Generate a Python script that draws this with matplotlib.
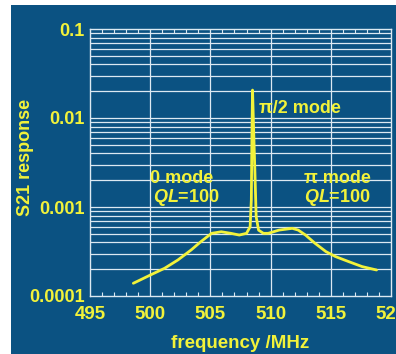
import numpy as np
import matplotlib.pyplot as plt
from matplotlib.patches import Rectangle
from matplotlib.ticker import MultipleLocator, FixedLocator, NullFormatter

plt.rcParams['font.family'] = ['Liberation Sans', 'DejaVu Sans']
plt.rcParams['mathtext.fontset'] = 'custom'
plt.rcParams['mathtext.it'] = 'Liberation Sans:italic:bold'
plt.rcParams['mathtext.rm'] = 'Liberation Sans:bold'

# S21 transmission readout
freq = [498.6, 500.2, 501.2, 502.3, 503.4, 504.2, 505.1, 505.9, 506.7, 507.4,
        508.0, 508.3, 508.4, 508.45, 508.5, 508.6, 508.7, 508.8, 509.0, 509.4,
        509.8, 510.7, 511.8, 512.3, 512.9, 513.7, 514.6, 515.4, 516.5, 517.6, 518.8]
s21 = [1.39e-4, 1.77e-4, 2.05e-4, 2.54e-4, 3.29e-4, 4.07e-4, 5.06e-4, 5.27e-4, 5.06e-4, 4.84e-4,
       5.06e-4, 6.0e-4, 1.2e-3, 6.7e-3, 2.06e-2, 6.7e-3, 2.4e-3, 7.8e-4, 5.5e-4, 5.06e-4,
       5.06e-4, 5.5e-4, 5.76e-4, 5.5e-4, 4.84e-4, 3.9e-4, 3.15e-4, 2.77e-4, 2.43e-4, 2.14e-4, 1.96e-4]

xticks = [495, 500, 505, 510, 515, 520]
yticks = [1e-4, 1e-3, 1e-2, 1e-1]
ylabels = ['0.0001', '0.001', '0.01', '0.1']

bg = '#0b5282'
yel = '#f2f23a'
gridc = '#dce9f2'

fig = plt.figure(figsize=(3.96, 3.54), dpi=100)
fig.patch.set_facecolor('white')
fig.patches.append(Rectangle((11 / 396, 0), 1, (354 - 5) / 354, transform=fig.transFigure,
                             facecolor=bg, edgecolor='none', zorder=-5))

ax = fig.add_axes([90 / 396, 58 / 354, 301 / 396, 267 / 354])
ax.set_facecolor(bg)
ax.set_yscale('log')
ax.set_xlim(495, 520)
ax.set_ylim(1e-4, 1e-1)

ax.plot(freq, s21, color=yel, lw=2.0, solid_capstyle='round', zorder=3)

# grid
for x in xticks[1:-1]:
    ax.axvline(x, color=gridc, lw=0.9, zorder=1)
for dec in [1e-4, 1e-3, 1e-2]:
    for m in range(1, 10):
        v = dec * m
        if 1e-4 < v < 1e-1:
            ax.axhline(v, color=gridc, lw=0.9, zorder=1)

for s in ax.spines.values():
    s.set_color(gridc)
    s.set_linewidth(1.0)

ax.set_xticks(xticks)
ax.set_xticklabels([str(x) for x in xticks])
ax.xaxis.set_minor_locator(MultipleLocator(1))
ax.yaxis.set_major_locator(FixedLocator(yticks))
ax.set_yticklabels(ylabels)
ax.yaxis.set_minor_formatter(NullFormatter())
ax.tick_params(axis='x', which='both', direction='in', top=True, colors=gridc,
               labelcolor=yel, labelsize=13.5, pad=7)
ax.tick_params(axis='x', which='major', length=0)
ax.tick_params(axis='x', which='minor', length=3, width=0.8)
ax.tick_params(axis='y', which='both', length=0, labelcolor=yel, labelsize=13, pad=4)
for lab in ax.get_xticklabels() + ax.get_yticklabels():
    lab.set_fontweight('bold')

ax.set_xlabel('frequency /MHz', color=yel, fontsize=13.5, fontweight='bold', labelpad=9)
ax.set_ylabel('S21 response', color=yel, fontsize=13, fontweight='bold', va='center')
ax.yaxis.set_label_coords(-0.215, 0.52)

tk = dict(color=yel, fontsize=13, fontweight='bold', zorder=4)
ax.text(509.0, 0.0128, '\u03c0/2 mode', va='center', ha='left', **tk)
ax.text(500.0, 0.0021, '0 mode', va='center', ha='left', **tk)
ax.text(500.2, 0.00128, r'$QL$=100', va='center', ha='left', **tk)
ax.text(512.8, 0.0021, '\u03c0 mode', va='center', ha='left', **tk)
ax.text(512.8, 0.00128, r'$QL$=100', va='center', ha='left', **tk)

fig.savefig('out.png', dpi=100, facecolor=fig.get_facecolor())
